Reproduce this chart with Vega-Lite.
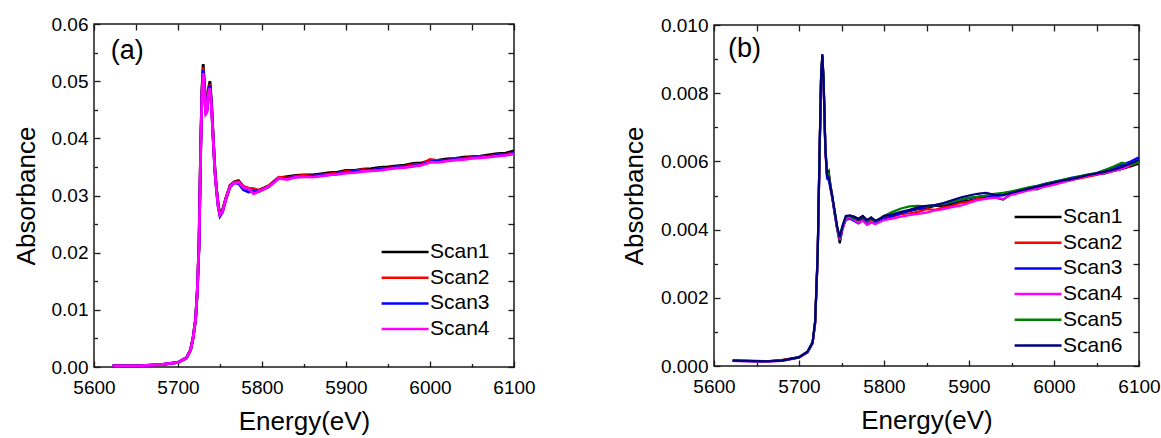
{
  "$schema": "https://vega.github.io/schema/vega-lite/v6.json",
  "background": "white",
  "padding": {"left": 12, "top": 14, "right": 0, "bottom": 0},
  "config": {
    "font": "Liberation Sans",
    "view": {"stroke": "#1a1a1a", "strokeWidth": 1.5},
    "axis": {
      "grid": false, "domain": false,
      "labelFont": "Liberation Sans", "labelFontSize": 19, "labelColor": "#000000",
      "titleFont": "Liberation Sans", "titleFontSize": 26, "titleFontWeight": "normal", "titleColor": "#000000",
      "tickColor": "#1a1a1a", "tickWidth": 1.3,
      "labelOverlap": false, "labelFlush": false, "labelBound": false
    },
    "legend": {
      "orient": "none", "title": null, "padding": 0,
      "symbolType": "M-1,0H4", "symbolSize": 353, "symbolStrokeWidth": 2.5,
      "labelFont": "Liberation Sans", "labelFontSize": 21, "labelColor": "#000000",
      "labelOffset": 28, "rowPadding": 4.7
    }
  },
  "datasets": {
    "a1": [
      {"E":5622,"A":0.0002},{"E":5650,"A":0.0002},{"E":5680,"A":0.0004},{"E":5700,"A":0.0008},{"E":5710,"A":0.0016},
      {"E":5715,"A":0.0030},{"E":5718,"A":0.0052},{"E":5721,"A":0.0085},{"E":5723,"A":0.0135},{"E":5725,"A":0.0215},
      {"E":5727,"A":0.0385},{"E":5728.5,"A":0.0485},{"E":5730,"A":0.0530},{"E":5731.5,"A":0.0495},{"E":5733,"A":0.0452},
      {"E":5734.5,"A":0.0452},{"E":5736,"A":0.0485},{"E":5738,"A":0.0500},{"E":5740,"A":0.0460},{"E":5742,"A":0.0400},
      {"E":5744,"A":0.0345},{"E":5746,"A":0.0310},{"E":5748,"A":0.0283},{"E":5750,"A":0.0268},{"E":5753,"A":0.0275},
      {"E":5757,"A":0.0296},{"E":5762,"A":0.0318},{"E":5767,"A":0.0324},{"E":5772,"A":0.0326},{"E":5778,"A":0.0315},
      {"E":5784,"A":0.0312},{"E":5790,"A":0.0310},{"E":5796,"A":0.0309},{"E":5802,"A":0.0313},{"E":5808,"A":0.0317},
      {"E":5814,"A":0.0324},{"E":5820,"A":0.0331},{"E":5830,"A":0.0333},{"E":5840,"A":0.0335},{"E":5850,"A":0.0336},
      {"E":5860,"A":0.0336},{"E":5870,"A":0.0338},{"E":5880,"A":0.0340},{"E":5890,"A":0.0341},{"E":5900,"A":0.0344},
      {"E":5910,"A":0.0344},{"E":5920,"A":0.0346},{"E":5930,"A":0.0347},{"E":5940,"A":0.0349},{"E":5950,"A":0.0350},
      {"E":5960,"A":0.0352},{"E":5970,"A":0.0353},{"E":5980,"A":0.0356},{"E":5990,"A":0.0357},{"E":6000,"A":0.0361},
      {"E":6010,"A":0.0362},{"E":6020,"A":0.0364},{"E":6030,"A":0.0365},{"E":6040,"A":0.0367},{"E":6050,"A":0.0368},
      {"E":6060,"A":0.0369},{"E":6070,"A":0.0371},{"E":6080,"A":0.0373},{"E":6090,"A":0.0374},{"E":6100,"A":0.0378}
    ],
    "a2": [
      {"E":5622,"A":0.0002},{"E":5650,"A":0.0002},{"E":5680,"A":0.0004},{"E":5700,"A":0.0008},{"E":5710,"A":0.0016},
      {"E":5715,"A":0.0030},{"E":5718,"A":0.0051},{"E":5721,"A":0.0084},{"E":5723,"A":0.0134},{"E":5725,"A":0.0213},
      {"E":5727,"A":0.0382},{"E":5728.5,"A":0.0480},{"E":5730,"A":0.0524},{"E":5731.5,"A":0.0490},{"E":5733,"A":0.0448},
      {"E":5734.5,"A":0.0450},{"E":5736,"A":0.0482},{"E":5738,"A":0.0495},{"E":5740,"A":0.0456},{"E":5742,"A":0.0397},
      {"E":5744,"A":0.0342},{"E":5746,"A":0.0308},{"E":5748,"A":0.0280},{"E":5750,"A":0.0265},{"E":5753,"A":0.0273},
      {"E":5757,"A":0.0295},{"E":5762,"A":0.0317},{"E":5767,"A":0.0323},{"E":5772,"A":0.0324},{"E":5778,"A":0.0316},
      {"E":5784,"A":0.0313},{"E":5790,"A":0.0312},{"E":5796,"A":0.0309},{"E":5802,"A":0.0312},{"E":5808,"A":0.0316},
      {"E":5814,"A":0.0325},{"E":5820,"A":0.0332},{"E":5830,"A":0.0331},{"E":5840,"A":0.0334},{"E":5850,"A":0.0335},
      {"E":5860,"A":0.0334},{"E":5870,"A":0.0336},{"E":5880,"A":0.0338},{"E":5890,"A":0.0339},{"E":5900,"A":0.0342},
      {"E":5910,"A":0.0343},{"E":5920,"A":0.0345},{"E":5930,"A":0.0344},{"E":5940,"A":0.0347},{"E":5950,"A":0.0348},
      {"E":5960,"A":0.0350},{"E":5970,"A":0.0351},{"E":5980,"A":0.0354},{"E":5990,"A":0.0355},{"E":6000,"A":0.0363},
      {"E":6010,"A":0.0361},{"E":6020,"A":0.0362},{"E":6030,"A":0.0364},{"E":6040,"A":0.0365},{"E":6050,"A":0.0367},
      {"E":6060,"A":0.0368},{"E":6070,"A":0.0369},{"E":6080,"A":0.0371},{"E":6090,"A":0.0372},{"E":6100,"A":0.0375}
    ],
    "a3": [
      {"E":5622,"A":0.0002},{"E":5650,"A":0.0002},{"E":5680,"A":0.0004},{"E":5700,"A":0.0008},{"E":5710,"A":0.0016},
      {"E":5715,"A":0.0030},{"E":5718,"A":0.0051},{"E":5721,"A":0.0084},{"E":5723,"A":0.0133},{"E":5725,"A":0.0212},
      {"E":5727,"A":0.0380},{"E":5728.5,"A":0.0478},{"E":5730,"A":0.0520},{"E":5731.5,"A":0.0486},{"E":5733,"A":0.0446},
      {"E":5734.5,"A":0.0448},{"E":5736,"A":0.0480},{"E":5738,"A":0.0493},{"E":5740,"A":0.0455},{"E":5742,"A":0.0396},
      {"E":5744,"A":0.0341},{"E":5746,"A":0.0307},{"E":5748,"A":0.0279},{"E":5750,"A":0.0264},{"E":5753,"A":0.0271},
      {"E":5757,"A":0.0293},{"E":5762,"A":0.0315},{"E":5767,"A":0.0322},{"E":5772,"A":0.0321},{"E":5778,"A":0.0310},
      {"E":5784,"A":0.0306},{"E":5790,"A":0.0308},{"E":5796,"A":0.0307},{"E":5802,"A":0.0311},{"E":5808,"A":0.0315},
      {"E":5814,"A":0.0323},{"E":5820,"A":0.0330},{"E":5830,"A":0.0330},{"E":5840,"A":0.0332},{"E":5850,"A":0.0333},
      {"E":5860,"A":0.0334},{"E":5870,"A":0.0335},{"E":5880,"A":0.0336},{"E":5890,"A":0.0338},{"E":5900,"A":0.0340},
      {"E":5910,"A":0.0342},{"E":5920,"A":0.0343},{"E":5930,"A":0.0344},{"E":5940,"A":0.0346},{"E":5950,"A":0.0347},
      {"E":5960,"A":0.0349},{"E":5970,"A":0.0350},{"E":5980,"A":0.0352},{"E":5990,"A":0.0354},{"E":6000,"A":0.0359},
      {"E":6010,"A":0.0360},{"E":6020,"A":0.0362},{"E":6030,"A":0.0363},{"E":6040,"A":0.0364},{"E":6050,"A":0.0366},
      {"E":6060,"A":0.0367},{"E":6070,"A":0.0368},{"E":6080,"A":0.0370},{"E":6090,"A":0.0371},{"E":6100,"A":0.0374}
    ],
    "a4": [
      {"E":5622,"A":0.0002},{"E":5650,"A":0.0002},{"E":5680,"A":0.0004},{"E":5700,"A":0.0008},{"E":5710,"A":0.0016},
      {"E":5715,"A":0.0030},{"E":5718,"A":0.0051},{"E":5721,"A":0.0084},{"E":5723,"A":0.0134},{"E":5725,"A":0.0212},
      {"E":5727,"A":0.0378},{"E":5728.5,"A":0.0475},{"E":5730,"A":0.0514},{"E":5731.5,"A":0.0480},{"E":5733,"A":0.0442},
      {"E":5734.5,"A":0.0445},{"E":5736,"A":0.0478},{"E":5738,"A":0.0488},{"E":5740,"A":0.0452},{"E":5742,"A":0.0395},
      {"E":5744,"A":0.0340},{"E":5746,"A":0.0306},{"E":5748,"A":0.0279},{"E":5750,"A":0.0266},{"E":5753,"A":0.0272},
      {"E":5757,"A":0.0294},{"E":5762,"A":0.0316},{"E":5767,"A":0.0322},{"E":5772,"A":0.0323},{"E":5778,"A":0.0314},
      {"E":5784,"A":0.0312},{"E":5790,"A":0.0303},{"E":5796,"A":0.0307},{"E":5802,"A":0.0311},{"E":5808,"A":0.0316},
      {"E":5814,"A":0.0322},{"E":5820,"A":0.0330},{"E":5830,"A":0.0328},{"E":5840,"A":0.0332},{"E":5850,"A":0.0333},
      {"E":5860,"A":0.0332},{"E":5870,"A":0.0334},{"E":5880,"A":0.0336},{"E":5890,"A":0.0337},{"E":5900,"A":0.0339},
      {"E":5910,"A":0.0340},{"E":5920,"A":0.0342},{"E":5930,"A":0.0343},{"E":5940,"A":0.0344},{"E":5950,"A":0.0346},
      {"E":5960,"A":0.0348},{"E":5970,"A":0.0349},{"E":5980,"A":0.0351},{"E":5990,"A":0.0353},{"E":6000,"A":0.0358},
      {"E":6010,"A":0.0358},{"E":6020,"A":0.0360},{"E":6030,"A":0.0362},{"E":6040,"A":0.0363},{"E":6050,"A":0.0365},
      {"E":6060,"A":0.0366},{"E":6070,"A":0.0367},{"E":6080,"A":0.0369},{"E":6090,"A":0.0370},{"E":6100,"A":0.0373}
    ],
    "b1": [
      {"E":5622,"A":0.00016},{"E":5640,"A":0.00015},{"E":5660,"A":0.00013},{"E":5680,"A":0.00017},{"E":5700,"A":0.00026},
      {"E":5710,"A":0.00042},{"E":5716,"A":0.00070},{"E":5719,"A":0.00130},{"E":5722,"A":0.00330},{"E":5724,"A":0.00600},
      {"E":5726,"A":0.00850},{"E":5727.5,"A":0.00912},{"E":5729,"A":0.00830},{"E":5731,"A":0.00640},{"E":5733,"A":0.00560},
      {"E":5735,"A":0.00570},{"E":5737,"A":0.00530},{"E":5739,"A":0.00500},{"E":5742,"A":0.00450},{"E":5745,"A":0.00400},
      {"E":5748,"A":0.00360},{"E":5751,"A":0.00400},{"E":5755,"A":0.00435},{"E":5760,"A":0.00440},{"E":5765,"A":0.00438},
      {"E":5770,"A":0.00432},{"E":5775,"A":0.00440},{"E":5780,"A":0.00428},{"E":5785,"A":0.00436},{"E":5790,"A":0.00425},
      {"E":5795,"A":0.00430},{"E":5800,"A":0.00440},{"E":5810,"A":0.00443},{"E":5820,"A":0.00450},{"E":5830,"A":0.00455},
      {"E":5840,"A":0.00460},{"E":5850,"A":0.00462},{"E":5860,"A":0.00470},{"E":5870,"A":0.00468},{"E":5880,"A":0.00475},
      {"E":5890,"A":0.00482},{"E":5900,"A":0.00485},{"E":5910,"A":0.00490},{"E":5920,"A":0.00497},{"E":5930,"A":0.00495},
      {"E":5940,"A":0.00488},{"E":5950,"A":0.00505},{"E":5960,"A":0.00512},{"E":5970,"A":0.00520},{"E":5980,"A":0.00518},
      {"E":5990,"A":0.00530},{"E":6000,"A":0.00538},{"E":6010,"A":0.00540},{"E":6020,"A":0.00548},{"E":6030,"A":0.00552},
      {"E":6040,"A":0.00558},{"E":6050,"A":0.00562},{"E":6060,"A":0.00565},{"E":6070,"A":0.00572},{"E":6080,"A":0.00578},
      {"E":6090,"A":0.00585},{"E":6100,"A":0.00593}
    ],
    "b2": [
      {"E":5622,"A":0.00016},{"E":5640,"A":0.00014},{"E":5660,"A":0.00014},{"E":5680,"A":0.00017},{"E":5700,"A":0.00025},
      {"E":5710,"A":0.00041},{"E":5716,"A":0.00068},{"E":5719,"A":0.00128},{"E":5722,"A":0.00325},{"E":5724,"A":0.00595},
      {"E":5726,"A":0.00845},{"E":5727.5,"A":0.00905},{"E":5729,"A":0.00825},{"E":5731,"A":0.00630},{"E":5733,"A":0.00555},
      {"E":5735,"A":0.00560},{"E":5737,"A":0.00525},{"E":5739,"A":0.00495},{"E":5742,"A":0.00450},{"E":5745,"A":0.00405},
      {"E":5748,"A":0.00372},{"E":5751,"A":0.00405},{"E":5755,"A":0.00432},{"E":5760,"A":0.00438},{"E":5765,"A":0.00430},
      {"E":5770,"A":0.00425},{"E":5775,"A":0.00432},{"E":5780,"A":0.00422},{"E":5785,"A":0.00430},{"E":5790,"A":0.00422},
      {"E":5795,"A":0.00428},{"E":5800,"A":0.00435},{"E":5810,"A":0.00438},{"E":5820,"A":0.00445},{"E":5830,"A":0.00448},
      {"E":5840,"A":0.00452},{"E":5850,"A":0.00460},{"E":5860,"A":0.00458},{"E":5870,"A":0.00465},{"E":5880,"A":0.00470},
      {"E":5890,"A":0.00478},{"E":5900,"A":0.00482},{"E":5910,"A":0.00490},{"E":5920,"A":0.00492},{"E":5930,"A":0.00500},
      {"E":5940,"A":0.00502},{"E":5950,"A":0.00508},{"E":5960,"A":0.00510},{"E":5970,"A":0.00518},{"E":5980,"A":0.00522},
      {"E":5990,"A":0.00528},{"E":6000,"A":0.00532},{"E":6010,"A":0.00540},{"E":6020,"A":0.00545},{"E":6030,"A":0.00550},
      {"E":6040,"A":0.00555},{"E":6050,"A":0.00560},{"E":6060,"A":0.00568},{"E":6070,"A":0.00572},{"E":6080,"A":0.00580},
      {"E":6090,"A":0.00588},{"E":6100,"A":0.00598}
    ],
    "b3": [
      {"E":5622,"A":0.00015},{"E":5640,"A":0.00014},{"E":5660,"A":0.00013},{"E":5680,"A":0.00016},{"E":5700,"A":0.00025},
      {"E":5710,"A":0.00040},{"E":5716,"A":0.00066},{"E":5719,"A":0.00125},{"E":5722,"A":0.00320},{"E":5724,"A":0.00590},
      {"E":5726,"A":0.00848},{"E":5727.5,"A":0.00908},{"E":5729,"A":0.00828},{"E":5731,"A":0.00635},{"E":5733,"A":0.00550},
      {"E":5735,"A":0.00545},{"E":5737,"A":0.00520},{"E":5739,"A":0.00495},{"E":5742,"A":0.00445},{"E":5745,"A":0.00400},
      {"E":5748,"A":0.00375},{"E":5751,"A":0.00402},{"E":5755,"A":0.00428},{"E":5760,"A":0.00432},{"E":5765,"A":0.00425},
      {"E":5770,"A":0.00418},{"E":5775,"A":0.00428},{"E":5780,"A":0.00415},{"E":5785,"A":0.00422},{"E":5790,"A":0.00418},
      {"E":5795,"A":0.00425},{"E":5800,"A":0.00432},{"E":5810,"A":0.00440},{"E":5820,"A":0.00448},{"E":5830,"A":0.00455},
      {"E":5840,"A":0.00462},{"E":5850,"A":0.00466},{"E":5860,"A":0.00470},{"E":5870,"A":0.00475},{"E":5880,"A":0.00480},
      {"E":5890,"A":0.00486},{"E":5900,"A":0.00492},{"E":5910,"A":0.00496},{"E":5920,"A":0.00500},{"E":5930,"A":0.00498},
      {"E":5940,"A":0.00502},{"E":5950,"A":0.00510},{"E":5960,"A":0.00515},{"E":5970,"A":0.00522},{"E":5980,"A":0.00528},
      {"E":5990,"A":0.00535},{"E":6000,"A":0.00540},{"E":6010,"A":0.00545},{"E":6020,"A":0.00552},{"E":6030,"A":0.00556},
      {"E":6040,"A":0.00560},{"E":6050,"A":0.00565},{"E":6060,"A":0.00575},{"E":6070,"A":0.00582},{"E":6080,"A":0.00590},
      {"E":6090,"A":0.00600},{"E":6100,"A":0.00612}
    ],
    "b4": [
      {"E":5622,"A":0.00015},{"E":5640,"A":0.00014},{"E":5660,"A":0.00013},{"E":5680,"A":0.00015},{"E":5700,"A":0.00024},
      {"E":5710,"A":0.00040},{"E":5716,"A":0.00066},{"E":5719,"A":0.00126},{"E":5722,"A":0.00322},{"E":5724,"A":0.00592},
      {"E":5726,"A":0.00846},{"E":5727.5,"A":0.00906},{"E":5729,"A":0.00826},{"E":5731,"A":0.00638},{"E":5733,"A":0.00565},
      {"E":5735,"A":0.00562},{"E":5737,"A":0.00528},{"E":5739,"A":0.00498},{"E":5742,"A":0.00448},{"E":5745,"A":0.00402},
      {"E":5748,"A":0.00370},{"E":5751,"A":0.00400},{"E":5755,"A":0.00430},{"E":5760,"A":0.00436},{"E":5765,"A":0.00428},
      {"E":5770,"A":0.00420},{"E":5775,"A":0.00426},{"E":5780,"A":0.00414},{"E":5785,"A":0.00420},{"E":5790,"A":0.00416},
      {"E":5795,"A":0.00422},{"E":5800,"A":0.00428},{"E":5810,"A":0.00432},{"E":5820,"A":0.00438},{"E":5830,"A":0.00442},
      {"E":5840,"A":0.00446},{"E":5850,"A":0.00450},{"E":5860,"A":0.00456},{"E":5870,"A":0.00460},{"E":5880,"A":0.00466},
      {"E":5890,"A":0.00470},{"E":5900,"A":0.00478},{"E":5910,"A":0.00486},{"E":5920,"A":0.00490},{"E":5930,"A":0.00494},
      {"E":5940,"A":0.00490},{"E":5950,"A":0.00502},{"E":5960,"A":0.00508},{"E":5970,"A":0.00515},{"E":5980,"A":0.00520},
      {"E":5990,"A":0.00526},{"E":6000,"A":0.00532},{"E":6010,"A":0.00538},{"E":6020,"A":0.00545},{"E":6030,"A":0.00552},
      {"E":6040,"A":0.00558},{"E":6050,"A":0.00562},{"E":6060,"A":0.00566},{"E":6070,"A":0.00572},{"E":6080,"A":0.00578},
      {"E":6090,"A":0.00590},{"E":6100,"A":0.00605}
    ],
    "b5": [
      {"E":5622,"A":0.00016},{"E":5640,"A":0.00015},{"E":5660,"A":0.00014},{"E":5680,"A":0.00016},{"E":5700,"A":0.00025},
      {"E":5710,"A":0.00041},{"E":5716,"A":0.00068},{"E":5719,"A":0.00128},{"E":5722,"A":0.00326},{"E":5724,"A":0.00596},
      {"E":5726,"A":0.00848},{"E":5727.5,"A":0.00908},{"E":5729,"A":0.00830},{"E":5731,"A":0.00642},{"E":5733,"A":0.00568},
      {"E":5735,"A":0.00565},{"E":5737,"A":0.00530},{"E":5739,"A":0.00498},{"E":5742,"A":0.00452},{"E":5745,"A":0.00404},
      {"E":5748,"A":0.00378},{"E":5751,"A":0.00408},{"E":5755,"A":0.00436},{"E":5760,"A":0.00440},{"E":5765,"A":0.00432},
      {"E":5770,"A":0.00428},{"E":5775,"A":0.00436},{"E":5780,"A":0.00426},{"E":5785,"A":0.00432},{"E":5790,"A":0.00424},
      {"E":5795,"A":0.00432},{"E":5800,"A":0.00440},{"E":5810,"A":0.00452},{"E":5820,"A":0.00462},{"E":5830,"A":0.00468},
      {"E":5840,"A":0.00470},{"E":5850,"A":0.00468},{"E":5860,"A":0.00472},{"E":5870,"A":0.00476},{"E":5880,"A":0.00482},
      {"E":5890,"A":0.00488},{"E":5900,"A":0.00494},{"E":5910,"A":0.00496},{"E":5920,"A":0.00500},{"E":5930,"A":0.00505},
      {"E":5940,"A":0.00508},{"E":5950,"A":0.00512},{"E":5960,"A":0.00518},{"E":5970,"A":0.00524},{"E":5980,"A":0.00528},
      {"E":5990,"A":0.00534},{"E":6000,"A":0.00540},{"E":6010,"A":0.00546},{"E":6020,"A":0.00550},{"E":6030,"A":0.00556},
      {"E":6040,"A":0.00562},{"E":6050,"A":0.00566},{"E":6060,"A":0.00575},{"E":6070,"A":0.00585},{"E":6080,"A":0.00596},
      {"E":6090,"A":0.00590},{"E":6100,"A":0.00598}
    ],
    "b6": [
      {"E":5622,"A":0.00016},{"E":5640,"A":0.00015},{"E":5660,"A":0.00014},{"E":5680,"A":0.00016},{"E":5700,"A":0.00026},
      {"E":5710,"A":0.00042},{"E":5716,"A":0.00070},{"E":5719,"A":0.00132},{"E":5722,"A":0.00335},{"E":5724,"A":0.00605},
      {"E":5726,"A":0.00855},{"E":5727.5,"A":0.00915},{"E":5729,"A":0.00835},{"E":5731,"A":0.00640},{"E":5733,"A":0.00560},
      {"E":5735,"A":0.00552},{"E":5737,"A":0.00525},{"E":5739,"A":0.00500},{"E":5742,"A":0.00455},{"E":5745,"A":0.00408},
      {"E":5748,"A":0.00378},{"E":5751,"A":0.00410},{"E":5755,"A":0.00440},{"E":5760,"A":0.00442},{"E":5765,"A":0.00436},
      {"E":5770,"A":0.00430},{"E":5775,"A":0.00438},{"E":5780,"A":0.00428},{"E":5785,"A":0.00434},{"E":5790,"A":0.00426},
      {"E":5795,"A":0.00432},{"E":5800,"A":0.00440},{"E":5810,"A":0.00445},{"E":5820,"A":0.00452},{"E":5830,"A":0.00458},
      {"E":5840,"A":0.00465},{"E":5850,"A":0.00470},{"E":5860,"A":0.00472},{"E":5870,"A":0.00478},{"E":5880,"A":0.00486},
      {"E":5890,"A":0.00494},{"E":5900,"A":0.00500},{"E":5910,"A":0.00505},{"E":5920,"A":0.00508},{"E":5930,"A":0.00502},
      {"E":5940,"A":0.00500},{"E":5950,"A":0.00508},{"E":5960,"A":0.00514},{"E":5970,"A":0.00520},{"E":5980,"A":0.00526},
      {"E":5990,"A":0.00532},{"E":6000,"A":0.00538},{"E":6010,"A":0.00544},{"E":6020,"A":0.00548},{"E":6030,"A":0.00554},
      {"E":6040,"A":0.00560},{"E":6050,"A":0.00565},{"E":6060,"A":0.00570},{"E":6070,"A":0.00576},{"E":6080,"A":0.00584},
      {"E":6090,"A":0.00594},{"E":6100,"A":0.00605}
    ]
  },
  "hconcat": [
    {
      "width": 420,
      "height": 343,
      "layer": [
        {
          "data": {"name": "a1"},
          "mark": {"type": "line", "strokeWidth": 2.8},
          "encoding": {
            "x": {"field": "E", "type": "quantitative", "scale": {"domain": [5600, 6100], "nice": false, "zero": false},
                  "axis": {"orient": "bottom", "title": "Energy(eV)", "values": [5600, 5700, 5800, 5900, 6000, 6100], "format": "d", "ticks": false, "labelFlush": false, "labelAlign": "center", "labelPadding": 11, "titlePadding": 11}},
            "y": {"field": "A", "type": "quantitative", "scale": {"domain": [0, 0.06], "nice": false},
                  "axis": {"orient": "left", "title": "Absorbance", "values": [0, 0.01, 0.02, 0.03, 0.04, 0.05, 0.06], "format": ".2f", "ticks": false, "labelPadding": 6, "titlePadding": 12}},
            "color": {"datum": "Scan1", "type": "nominal",
                      "scale": {"domain": ["Scan1", "Scan2", "Scan3", "Scan4"], "range": ["#000000", "#ff0000", "#0000ff", "#ff00ff"]},
                      "legend": {"legendX": 286, "legendY": 217}}
          }
        },
        {
          "data": {"name": "a2"},
          "mark": {"type": "line", "strokeWidth": 2.8},
          "encoding": {
            "x": {"field": "E", "type": "quantitative", "scale": {"domain": [5600, 6100], "nice": false, "zero": false},
                  "axis": {"orient": "bottom", "title": null, "labels": false, "values": [5600, 5700, 5800, 5900, 6000, 6100], "tickSize": -6}},
            "y": {"field": "A", "type": "quantitative", "scale": {"domain": [0, 0.06], "nice": false},
                  "axis": {"orient": "left", "title": null, "labels": false, "values": [0, 0.01, 0.02, 0.03, 0.04, 0.05, 0.06], "tickSize": -6}},
            "color": {"datum": "Scan2", "type": "nominal"}
          }
        },
        {
          "data": {"name": "a3"},
          "mark": {"type": "line", "strokeWidth": 2.8},
          "encoding": {
            "x": {"field": "E", "type": "quantitative", "scale": {"domain": [5600, 6100], "nice": false, "zero": false},
                  "axis": {"orient": "bottom", "title": null, "labels": false, "values": [5650, 5750, 5850, 5950, 6050], "tickSize": -3.5}},
            "y": {"field": "A", "type": "quantitative", "scale": {"domain": [0, 0.06], "nice": false},
                  "axis": {"orient": "left", "title": null, "labels": false, "values": [0.005, 0.015, 0.025, 0.035, 0.045, 0.055], "tickSize": -3.5}},
            "color": {"datum": "Scan3", "type": "nominal"}
          }
        },
        {
          "data": {"name": "a4"},
          "mark": {"type": "line", "strokeWidth": 2.8},
          "encoding": {
            "x": {"field": "E", "type": "quantitative", "scale": {"domain": [5600, 6100], "nice": false, "zero": false},
                  "axis": {"orient": "top", "title": null, "labels": false, "values": [5600, 5700, 5800, 5900, 6000, 6100], "tickSize": -6}},
            "y": {"field": "A", "type": "quantitative", "scale": {"domain": [0, 0.06], "nice": false},
                  "axis": {"orient": "right", "title": null, "labels": false, "values": [0, 0.01, 0.02, 0.03, 0.04, 0.05, 0.06], "tickSize": -6}},
            "color": {"datum": "Scan4", "type": "nominal"}
          }
        },
        {
          "data": {"values": [{}]},
          "mark": {"type": "text", "text": "(a)", "fontSize": 27, "font": "Liberation Sans", "align": "left", "baseline": "alphabetic", "color": "#000000"},
          "encoding": {
            "x": {"datum": 5620, "type": "quantitative",
                  "axis": {"orient": "top", "title": null, "labels": false, "values": [5650, 5750, 5850, 5950, 6050], "tickSize": -6}},
            "y": {"datum": 0.0539, "type": "quantitative",
                  "axis": {"orient": "right", "title": null, "labels": false, "values": [0.005, 0.015, 0.025, 0.035, 0.045, 0.055], "tickSize": -6}}
          }
        }
      ],
      "resolve": {"axis": {"x": "independent", "y": "independent"}}
    },
    {
      "width": 425,
      "height": 341,
      "layer": [
        {
          "data": {"name": "b1"},
          "mark": {"type": "line", "strokeWidth": 2.2},
          "encoding": {
            "x": {"field": "E", "type": "quantitative", "scale": {"domain": [5600, 6100], "nice": false, "zero": false},
                  "axis": {"orient": "bottom", "title": "Energy(eV)", "values": [5600, 5700, 5800, 5900, 6000, 6100], "format": "d", "ticks": false, "labelFlush": false, "labelAlign": "center", "labelPadding": 11, "titlePadding": 11}},
            "y": {"field": "A", "type": "quantitative", "scale": {"domain": [0, 0.01], "nice": false},
                  "axis": {"orient": "left", "title": "Absorbance", "values": [0, 0.002, 0.004, 0.006, 0.008, 0.01], "format": ".3f", "ticks": false, "labelPadding": 6, "titlePadding": 13}},
            "color": {"datum": "Scan1", "type": "nominal",
                      "scale": {"domain": ["Scan1", "Scan2", "Scan3", "Scan4", "Scan5", "Scan6"], "range": ["#000000", "#ff0000", "#0000ff", "#ff00ff", "#008000", "#000080"]},
                      "legend": {"legendX": 299, "legendY": 181}}
          }
        },
        {
          "data": {"name": "b2"},
          "mark": {"type": "line", "strokeWidth": 2.2},
          "encoding": {
            "x": {"field": "E", "type": "quantitative", "scale": {"domain": [5600, 6100], "nice": false, "zero": false},
                  "axis": {"orient": "bottom", "title": null, "labels": false, "values": [5600, 5700, 5800, 5900, 6000, 6100], "tickSize": -6}},
            "y": {"field": "A", "type": "quantitative", "scale": {"domain": [0, 0.01], "nice": false},
                  "axis": {"orient": "left", "title": null, "labels": false, "values": [0, 0.002, 0.004, 0.006, 0.008, 0.01], "tickSize": -6}},
            "color": {"datum": "Scan2", "type": "nominal"}
          }
        },
        {
          "data": {"name": "b3"},
          "mark": {"type": "line", "strokeWidth": 2.2},
          "encoding": {
            "x": {"field": "E", "type": "quantitative", "scale": {"domain": [5600, 6100], "nice": false, "zero": false},
                  "axis": {"orient": "bottom", "title": null, "labels": false, "values": [5650, 5750, 5850, 5950, 6050], "tickSize": -3.5}},
            "y": {"field": "A", "type": "quantitative", "scale": {"domain": [0, 0.01], "nice": false},
                  "axis": {"orient": "left", "title": null, "labels": false, "values": [0.001, 0.003, 0.005, 0.007, 0.009], "tickSize": -3.5}},
            "color": {"datum": "Scan3", "type": "nominal"}
          }
        },
        {
          "data": {"name": "b4"},
          "mark": {"type": "line", "strokeWidth": 2.2},
          "encoding": {
            "x": {"field": "E", "type": "quantitative", "scale": {"domain": [5600, 6100], "nice": false, "zero": false},
                  "axis": {"orient": "top", "title": null, "labels": false, "values": [5600, 5700, 5800, 5900, 6000, 6100], "tickSize": -6}},
            "y": {"field": "A", "type": "quantitative", "scale": {"domain": [0, 0.01], "nice": false},
                  "axis": {"orient": "right", "title": null, "labels": false, "values": [0, 0.002, 0.004, 0.006, 0.008, 0.01], "tickSize": -6}},
            "color": {"datum": "Scan4", "type": "nominal"}
          }
        },
        {
          "data": {"name": "b5"},
          "mark": {"type": "line", "strokeWidth": 2.2},
          "encoding": {
            "x": {"field": "E", "type": "quantitative", "scale": {"domain": [5600, 6100], "nice": false, "zero": false},
                  "axis": {"orient": "top", "title": null, "labels": false, "values": [5650, 5750, 5850, 5950, 6050], "tickSize": -6}},
            "y": {"field": "A", "type": "quantitative", "scale": {"domain": [0, 0.01], "nice": false},
                  "axis": {"orient": "right", "title": null, "labels": false, "values": [0.001, 0.003, 0.005, 0.007, 0.009], "tickSize": -6}},
            "color": {"datum": "Scan5", "type": "nominal"}
          }
        },
        {
          "data": {"name": "b6"},
          "mark": {"type": "line", "strokeWidth": 2.2},
          "encoding": {
            "x": {"field": "E", "type": "quantitative", "scale": {"domain": [5600, 6100], "nice": false, "zero": false}, "axis": null},
            "y": {"field": "A", "type": "quantitative", "scale": {"domain": [0, 0.01], "nice": false}, "axis": null},
            "color": {"datum": "Scan6", "type": "nominal"}
          }
        },
        {
          "data": {"values": [{}]},
          "mark": {"type": "text", "text": "(b)", "fontSize": 27, "font": "Liberation Sans", "align": "left", "baseline": "alphabetic", "color": "#000000"},
          "encoding": {
            "x": {"datum": 5616.5, "type": "quantitative", "axis": null},
            "y": {"datum": 0.00906, "type": "quantitative", "axis": null}
          }
        }
      ],
      "resolve": {"axis": {"x": "independent", "y": "independent"}}
    }
  ],
  "spacing": 200,
  "bounds": "flush",
  "center": true,
  "resolve": {"scale": {"x": "independent", "y": "independent", "color": "independent"}}
}
